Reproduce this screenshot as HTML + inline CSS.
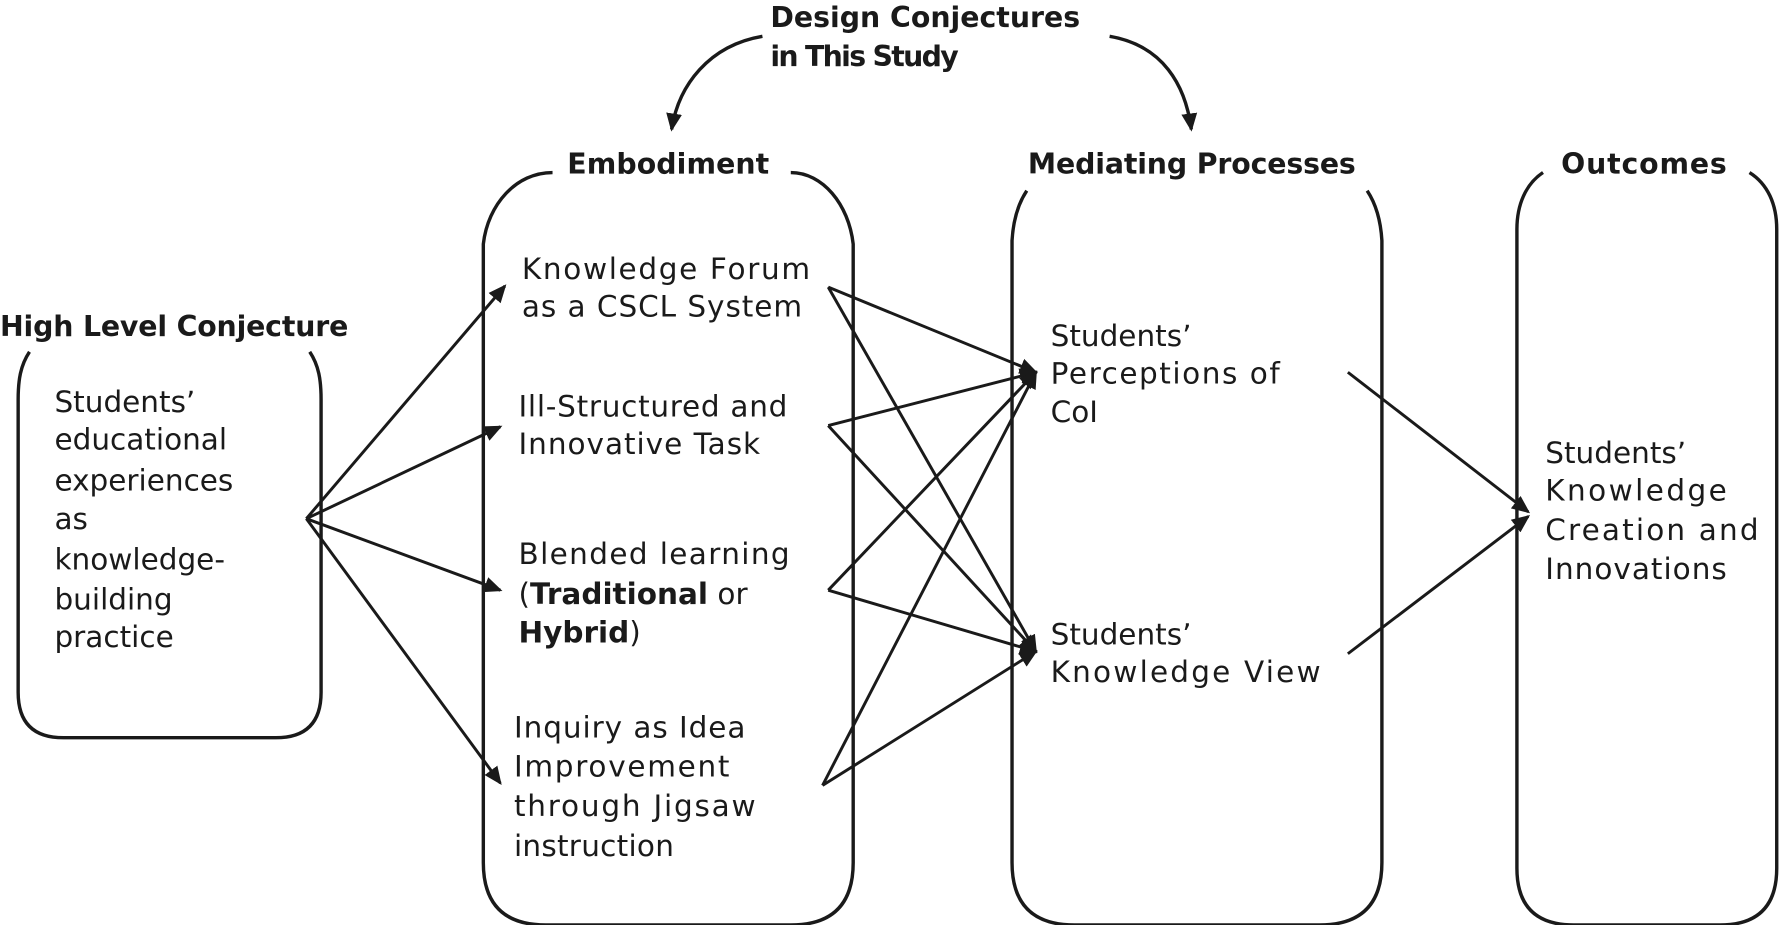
<!DOCTYPE html>
<html><head><meta charset="utf-8"><style>
html,body{margin:0;padding:0;background:#fff;}
svg{display:block;}
text{font-family:"DejaVu Sans","Liberation Sans",sans-serif;fill:#1a1a1a;}
.t{font-size:26px;}
.b{font-size:25px;font-weight:bold;}
.s{fill:none;stroke:#1a1a1a;stroke-width:3;}
</style></head><body>
<svg width="1779" height="925" viewBox="0 0 1568 815" preserveAspectRatio="none">
<defs><marker id="a" markerWidth="10" markerHeight="10" refX="8" refY="5" orient="auto" markerUnits="userSpaceOnUse" viewBox="0 0 10 10"><path d="M0,0 L10,5 L0,10 z" fill="#1a1a1a" transform="scale(1)"/></marker>
<marker id="A" markerWidth="16" markerHeight="16" refX="14" refY="8" orient="auto" markerUnits="userSpaceOnUse"><path d="M0,1 L16,8 L0,15 z" fill="#1a1a1a"/></marker></defs>

<!-- titles -->
<text class="b" x="679" y="24" textLength="273">Design Conjectures</text>
<text class="b" x="679" y="58" textLength="166">in This Study</text>
<text class="b" x="500" y="153" textLength="178">Embodiment</text>
<text class="b" x="906" y="153" textLength="289">Mediating Processes</text>
<text class="b" x="1376" y="153" textLength="146">Outcomes</text>
<text class="b" x="0" y="296" textLength="307">High Level Conjecture</text>

<!-- curved arrows -->
<path class="s" d="M672,32 C625,40 598,75 592,114" marker-end="url(#A)"/>
<path class="s" d="M978,32 C1025,40 1045,75 1050,114" marker-end="url(#A)"/>

<!-- left box -->
<path class="s" d="M26,310 C18,322 16,335 16,352 L16,610 Q16,650 56,650 L243,650 Q283,650 283,610 L283,352 C283,335 281,322 273,310"/>
<!-- embodiment box -->
<path class="s" d="M487,152 C455,152 430,180 426,215 L426,760 Q426,815 481,815 L697,815 Q752,815 752,760 L752,215 C748,180 725,152 697,152"/>
<!-- mediating box -->
<path class="s" d="M905,168 C897,180 893,195 892,212 L892,760 Q892,815 947,815 L1163,815 Q1218,815 1218,760 L1218,212 C1217,195 1213,180 1205,168"/>
<!-- outcomes box -->
<path class="s" d="M1360,152 C1345,162 1337,180 1337,202 L1337,765 Q1337,815 1387,815 L1516,815 Q1566,815 1566,765 L1566,202 C1566,180 1558,162 1542,152"/>

<!-- left text -->
<g class="t">
<text class="t" x="48" y="363">Students’</text>
<text class="t" x="48" y="396">educational</text>
<text class="t" x="48" y="432">experiences</text>
<text class="t" x="48" y="466">as</text>
<text class="t" x="48" y="502">knowledge-</text>
<text class="t" x="48" y="537">building</text>
<text class="t" x="48" y="570">practice</text>

<text class="t" x="460" y="246" textLength="254">Knowledge Forum</text>
<text class="t" x="460" y="279" textLength="247">as a CSCL System</text>
<text class="t" x="457" y="367" textLength="237">Ill-Structured and</text>
<text class="t" x="457" y="400" textLength="213">Innovative Task</text>
<text class="t" x="457" y="497" textLength="239">Blended learning</text>
<text class="t" x="457" y="532">(<tspan font-weight="bold">Traditional</tspan> or</text>
<text class="t" x="457" y="566"><tspan font-weight="bold">Hybrid</tspan>)</text>
<text class="t" x="453" y="650" textLength="204">Inquiry as Idea</text>
<text class="t" x="453" y="684" textLength="190">Improvement</text>
<text class="t" x="453" y="719" textLength="213">through Jigsaw</text>
<text class="t" x="453" y="754" textLength="141">instruction</text>

<text class="t" x="926" y="305">Students’</text>
<text class="t" x="926" y="338" textLength="202">Perceptions of</text>
<text class="t" x="926" y="372">CoI</text>
<text class="t" x="926" y="568">Students’</text>
<text class="t" x="926" y="601" textLength="238">Knowledge View</text>

<text class="t" x="1362" y="408">Students’</text>
<text class="t" x="1362" y="441" textLength="160">Knowledge</text>
<text class="t" x="1362" y="476" textLength="188">Creation and</text>
<text class="t" x="1362" y="510" textLength="160">Innovations</text>
</g>

<!-- arrows from left -->
<g class="s" style="stroke-width:2.6">
<line x1="270" y1="457" x2="445" y2="252" marker-end="url(#A)"/>
<line x1="270" y1="457" x2="441" y2="376" marker-end="url(#A)"/>
<line x1="270" y1="457" x2="441" y2="520" marker-end="url(#A)"/>
<line x1="270" y1="457" x2="441" y2="690" marker-end="url(#A)"/>

<line x1="730" y1="253" x2="913" y2="328" marker-end="url(#A)"/>
<line x1="730" y1="253" x2="913" y2="574" marker-end="url(#A)"/>
<line x1="730" y1="375" x2="913" y2="328" marker-end="url(#A)"/>
<line x1="730" y1="375" x2="913" y2="574" marker-end="url(#A)"/>
<line x1="730" y1="520" x2="913" y2="328" marker-end="url(#A)"/>
<line x1="730" y1="520" x2="913" y2="574" marker-end="url(#A)"/>
<line x1="725" y1="692" x2="913" y2="328" marker-end="url(#A)"/>
<line x1="725" y1="692" x2="913" y2="574" marker-end="url(#A)"/>

<line x1="1188" y1="328" x2="1347" y2="451" marker-end="url(#A)"/>
<line x1="1188" y1="576" x2="1347" y2="455" marker-end="url(#A)"/>
</g>
</svg>
</body></html>
